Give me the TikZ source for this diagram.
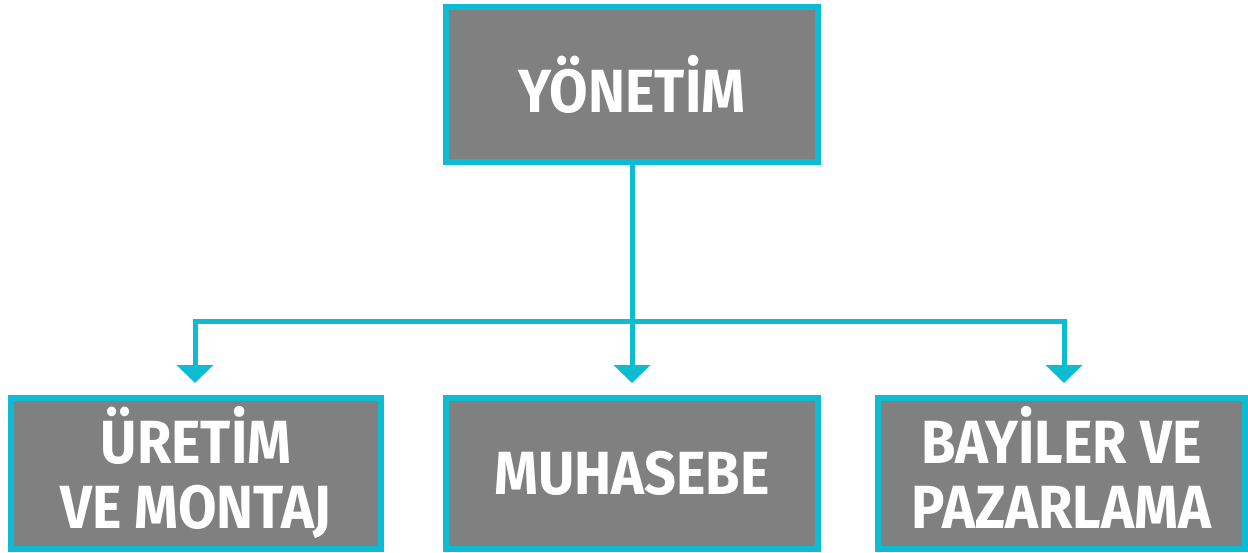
\documentclass[tikz,border=0pt]{standalone}
\usepackage{fontspec}
\newfontfamily\boxfont{Fira Sans}[FakeStretch=0.915]
\usetikzlibrary{arrows.meta}
\definecolor{frame}{HTML}{0DBCD3}
\definecolor{boxgray}{HTML}{808080}
\tikzset{
  unit/.style={draw=frame, fill=boxgray, line width=6pt, text=white,
    font=\boxfont\bfseries\fontsize{61}{65}\selectfont, align=center,
    inner sep=0pt},
  link/.style={draw=frame, line width=5pt},
  arr/.style={link, -{Triangle[width=36pt,length=18pt]}},
}
\begin{document}
\begin{tikzpicture}[x=1pt,y=-1pt]
\useasboundingbox (0,0) rectangle (1248,552);
\node[unit, minimum width=372pt, minimum height=155pt] (top) at (632,84.5) {YÖNETİM};
\node[unit, minimum width=370pt, minimum height=151pt] (left) at (196,473.5) {\raisebox{-4pt}[\height][\depth]{\begin{tabular}{c}ÜRETİM\\VE MONTAJ\end{tabular}}};
\node[unit, minimum width=372pt, minimum height=151pt] (mid) at (632,473.5) {MUHASEBE};
\node[unit, minimum width=367pt, minimum height=151pt] (right) at (1061.5,473.5) {\raisebox{-4pt}[\height][\depth]{\begin{tabular}{c}BAYİLER VE\\PAZARLAMA\end{tabular}}};
\coordinate (hub) at (632,321);
\coordinate (hl) at (195,321);
\coordinate (hr) at (1064,321);
\coordinate (tl) at (195,383);
\coordinate (tm) at (632,383);
\coordinate (tr) at (1064,383);
\draw[link] (top.south) -- (hub);
\draw[link] ([xshift=-2.5pt]hl) -- ([xshift=2.5pt]hr);
\draw[arr] ([yshift=-2.5pt]hl) -- (tl);
\draw[arr] (hub) -- (tm);
\draw[arr] ([yshift=-2.5pt]hr) -- (tr);
\end{tikzpicture}
\end{document}
